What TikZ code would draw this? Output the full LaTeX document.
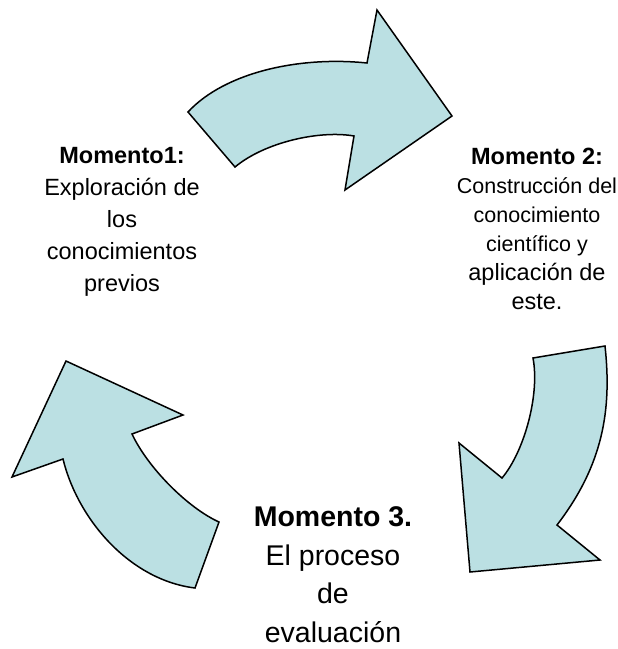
\documentclass[tikz,border=0pt]{standalone}
\usepackage{fontspec}
\setmainfont{Liberation Sans}
\definecolor{arrowfill}{HTML}{BBE0E3}
\begin{document}
\begin{tikzpicture}[x=1pt,y=-1pt,
  arrowshape/.style={fill=arrowfill,draw=black,line width=1.5pt,line join=miter},
  momtext/.style={align=center,inner sep=0pt,anchor=base}]
\useasboundingbox (0,0) rectangle (618,649);
% top arrow
\path[arrowshape] (188,112) .. controls (225,72) and (300,56) .. (367,63)
  -- (377,10) -- (452,116) -- (345,190) -- (354,136)
  .. controls (320,130) and (265,142) .. (235,167) -- cycle;
% right arrow
\path[arrowshape] (533,358) -- (605,346)
  .. controls (612,410) and (603,465) .. (557,525)
  -- (600,560) -- (470,572) -- (459,443) -- (502,478)
  .. controls (524,452) and (540,395) .. (533,358) -- cycle;
% left arrow
\path[arrowshape] (195,588) -- (219,522)
  .. controls (188,508) and (148,468) .. (132,434)
  -- (183,415) -- (66,361) -- (12,477) -- (63,459)
  .. controls (78,520) and (130,580) .. (195,588) -- cycle;
% texts (base anchor = baseline of the last line)
\node[momtext, font=\fontsize{23.5}{32}\selectfont] (m1) at (122,291)
  {\textbf{Momento1:}\\Exploración de\\los\\conocimientos\\previos};
\node[momtext, font=\fontsize{23.5}{29}\selectfont] (m2) at (537,309)
  {\textbf{Momento 2:}\\{\fontsize{21.5}{29}\selectfont Construcción del}\\{\fontsize{21.5}{29}\selectfont conocimiento}\\{\fontsize{21.5}{29}\selectfont científico y}\\aplicación de\\este.};
\node[momtext, font=\fontsize{28.5}{38.5}\selectfont] (m3) at (333,642)
  {\textbf{Momento 3.}\\El proceso\\de\\evaluación};
\end{tikzpicture}
\end{document}
